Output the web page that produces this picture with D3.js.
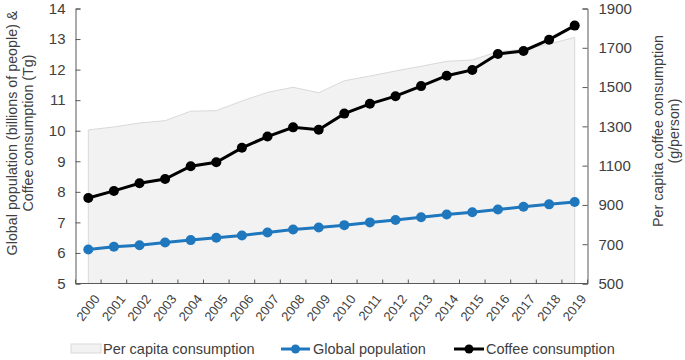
<!DOCTYPE html>
<html><head><meta charset="utf-8">
<script src="https://cdn.jsdelivr.net/npm/d3@7"></script>
<style>body{margin:0;background:#fff}svg{display:block;font-family:"Liberation Sans",Arial,sans-serif}</style>
</head><body><svg id="c" width="685" height="360"></svg>
<script>
const years = ["2000","2001","2002","2003","2004","2005","2006","2007","2008","2009","2010","2011","2012","2013","2014","2015","2016","2017","2018","2019"];
const coffee = [7.80,8.03,8.28,8.42,8.84,8.97,9.44,9.81,10.11,10.03,10.56,10.88,11.13,11.46,11.80,11.99,12.51,12.61,12.98,13.44];
const population = [6.11,6.20,6.25,6.34,6.42,6.50,6.57,6.67,6.77,6.83,6.91,7.00,7.08,7.17,7.26,7.33,7.42,7.51,7.59,7.67];
const perCapita = [1282,1297,1317,1329,1377,1380,1429,1473,1499,1471,1532,1556,1582,1606,1631,1638,1680,1692,1719,1753];
const leftTicks = [5,6,7,8,9,10,11,12,13,14];
const rightTicks = [500,700,900,1100,1300,1500,1700,1900];

const svg = d3.select("#c");
const L = 75.5, R = 587.5, T = 8.5, B = 283.5;
const x = d3.scaleBand().domain(years).range([L, R]);
const yL = d3.scaleLinear().domain([5,14]).range([B, T]);
const yR = d3.scaleLinear().domain([500,1900]).range([B, T]);
const cx = d => x(d) + x.bandwidth()/2;

// area
const area = d3.area().x((d,i)=>cx(years[i])).y0(B).y1(d=>yR(d));
svg.append("path").datum(perCapita).attr("d", area).attr("fill","#f2f2f2").attr("stroke","none");
const areaLine = d3.line().x((d,i)=>cx(years[i])).y(d=>yR(d));
svg.append("path").datum(perCapita).attr("d", areaLine).attr("fill","none").attr("stroke","#d9d9d9").attr("stroke-width",1);
svg.append("line").attr("x1",cx(years[0])).attr("x2",cx(years[0])).attr("y1",yR(perCapita[0])).attr("y2",B).attr("stroke","#d9d9d9");
svg.append("line").attr("x1",cx(years[19])).attr("x2",cx(years[19])).attr("y1",yR(perCapita[19])).attr("y2",B).attr("stroke","#d9d9d9");

// axes
const axisCol = "#595959";
const gL = svg.append("g").attr("transform",`translate(${L},0)`)
  .call(d3.axisRight(yL).tickValues(leftTicks).tickSize(5).tickFormat(d3.format("d")));
gL.selectAll("text").attr("x",-10).attr("text-anchor","end").attr("font-size",15).attr("fill","#404040");
const gR = svg.append("g").attr("transform",`translate(${R},0)`)
  .call(d3.axisLeft(yR).tickValues(rightTicks).tickSize(5).tickFormat(d3.format("d")));
gR.selectAll("text").attr("x",11).attr("text-anchor","start").attr("font-size",15).attr("fill","#404040");
const bTicks = years.map(y=>x(y)).concat([R]);
const gB = svg.append("g");
gB.append("line").attr("x1",L).attr("x2",R).attr("y1",B).attr("y2",B).attr("stroke",axisCol);
gB.selectAll("line.t").data(bTicks).enter().append("line").attr("class","t")
  .attr("x1",d=>d).attr("x2",d=>d).attr("y1",B).attr("y2",B-4).attr("stroke",axisCol);
gB.selectAll("text").data(years).enter().append("text")
  .attr("transform",d=>`translate(${cx(d)+5},${B+10}) rotate(-52)`)
  .attr("text-anchor","end").attr("dy","0.7em").attr("font-size",13).attr("fill","#404040").text(d=>d);
[gL,gR].forEach(g=>{g.select(".domain").attr("stroke",axisCol);g.selectAll(".tick line").attr("stroke",axisCol);});

// lines
function series(data, color){
  const line = d3.line().x((d,i)=>cx(years[i])).y(d=>yL(d));
  svg.append("path").datum(data).attr("d",line).attr("fill","none").attr("stroke",color).attr("stroke-width",3);
  svg.selectAll(null).data(data).enter().append("circle")
    .attr("cx",(d,i)=>cx(years[i])).attr("cy",d=>yL(d)).attr("r",5).attr("fill",color);
}
series(population,"#1f77bd");
series(coffee,"#000000");

// axis titles
const tl = svg.append("text").attr("transform","translate(19,133) rotate(-90)").attr("text-anchor","middle").attr("font-size",14.3).attr("fill","#404040");
tl.append("tspan").attr("x",0).attr("dy",-2).text("Global population (billions of people) &");
tl.append("tspan").attr("x",0).attr("dy",16).text("Coffee consumption (Tg)");
const tr = svg.append("text").attr("transform","translate(663,131) rotate(-90)").attr("text-anchor","middle").attr("font-size",14.3).attr("fill","#404040");
tr.append("tspan").attr("x",0).attr("dy",0).text("Per capita coffee consumption");
tr.append("tspan").attr("x",0).attr("dy",16).text("(g/person)");

// legend
const ly = 349;
const lg = svg.append("g");
lg.append("rect").attr("x",71).attr("y",ly-5).attr("width",30).attr("height",9).attr("fill","#f2f2f2").attr("stroke","#d9d9d9");
lg.append("text").attr("x",103).attr("y",ly+5).attr("font-size",14.5).attr("fill","#404040").text("Per capita consumption");
lg.append("line").attr("x1",281).attr("x2",310).attr("y1",ly).attr("y2",ly).attr("stroke","#1f77bd").attr("stroke-width",3);
lg.append("circle").attr("cx",295.5).attr("cy",ly).attr("r",4.5).attr("fill","#1f77bd");
lg.append("text").attr("x",313).attr("y",ly+5).attr("font-size",14.5).attr("fill","#404040").text("Global population");
lg.append("line").attr("x1",454).attr("x2",484).attr("y1",ly).attr("y2",ly).attr("stroke","#000").attr("stroke-width",3);
lg.append("circle").attr("cx",469).attr("cy",ly).attr("r",4.5).attr("fill","#000");
lg.append("text").attr("x",486).attr("y",ly+5).attr("font-size",14.5).attr("fill","#404040").text("Coffee consumption");
</script></body></html>
